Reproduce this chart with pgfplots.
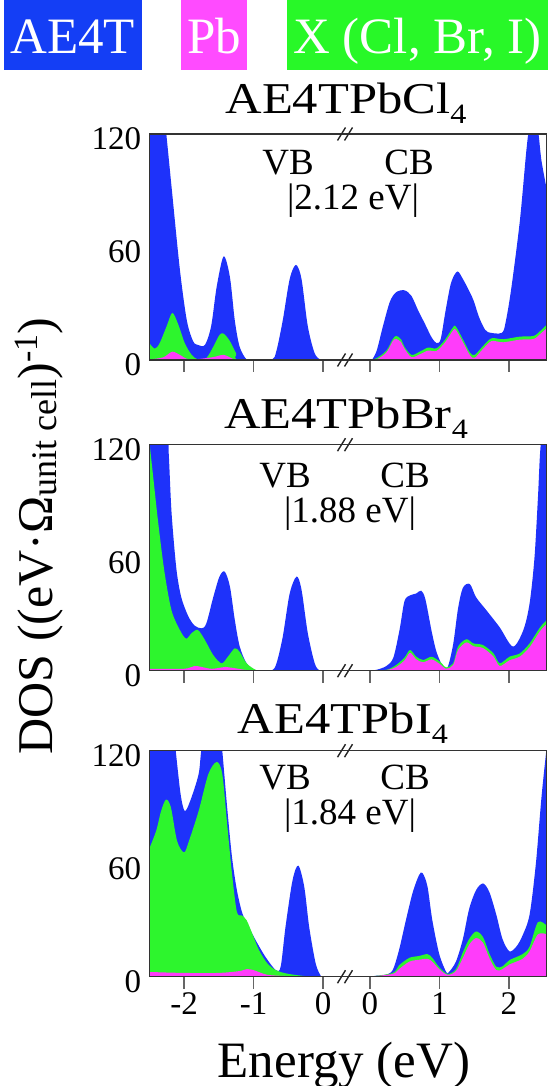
\documentclass[border=0pt]{standalone}
\usepackage{fontspec}
\setmainfont{Liberation Serif}
\usepackage{graphicx}
\usepackage{pgfplots}
\pgfplotsset{compat=1.18}

\definecolor{aeblue}{RGB}{30,50,250}
\definecolor{pbpink}{RGB}{255,60,250}
\definecolor{xgreen}{RGB}{45,245,45}
\definecolor{legblue}{RGB}{20,62,245}
\definecolor{legpink}{RGB}{255,75,255}
\definecolor{leggreen}{RGB}{40,248,40}

% conduction-band energies are drawn to the right of the axis break
\def\cbshift{0.672}
\newcommand\fs[1]{\fontsize{#1}{#1}\selectfont}
\newcommand\titlesub[1]{\raisebox{-10pt}{\fs{28}#1}}

\pgfplotsset{
  dosaxis/.style={
    scale only axis, width=397.4pt, height=226pt,
    xmin=-2.5, xmax=3.218, ymin=0, ymax=120,
    axis on top,
    axis line style={line width=1.5pt, black!80},
    tick align=outside, major tick length=12pt,
    xtick pos=left, ytick pos=left,
    xtick={-2,-1,0,0.672,1.672,2.672},
    xticklabels={,,,,,},
    x tick style={line width=1.5pt, black!60},
    ytick={0,60,120}, yticklabels={0,60,120},
    y tick style={draw=none},
    yticklabel style={font=\fs{33}, inner sep=0pt, xshift=4pt, yshift=-5pt},
    xticklabel style={font=\fs{33}},
  },
  vb/.style={draw=none, smooth, tension=0.5},
  cb/.style={draw=none, smooth, tension=0.5, x filter/.expression={x+\cbshift}},
}

\begin{document}
\begin{tikzpicture}
\path[use as bounding box] (0,0) rectangle (548pt,1086pt);

% ---------- legend ----------
\fill[legblue]  (3.5pt,1016pt) rectangle (142pt,1086pt);
\fill[legpink]  (181pt,1016pt) rectangle (247.4pt,1086pt);
\fill[leggreen] (287.3pt,1016pt) rectangle (548pt,1086pt);
\node[anchor=base, text=white, inner sep=0pt] at (72.8pt,1032pt) {\fs{51}AE4T};
\node[anchor=base, text=white, inner sep=0pt] at (214.2pt,1032pt) {\fs{51}Pb};
\node[anchor=base, text=white, inner sep=0pt] at (417.6pt,1032pt) {\fs{51}X (Cl, Br, I)};

% ---------- AE4TPbCl4 ----------
\begin{axis}[dosaxis, at={(149.3pt,726pt)}, anchor=south west]
\addplot[vb, fill=aeblue] coordinates {(-2.5,140) (-2.30,135) (-2.25,118) (-2.18,92) (-2.06,48) (-1.96,21) (-1.87,10) (-1.80,8) (-1.70,8) (-1.61,18) (-1.53,39) (-1.43,55) (-1.34,44) (-1.27,21) (-1.20,7) (-1.10,0.3) (-1.0,0) (-0.74,0) (-0.67,5) (-0.58,21) (-0.48,43) (-0.39,50.5) (-0.31,43) (-0.22,18) (-0.12,3.5) (-0.03,0) (0,0)} \closedcycle;
\addplot[cb, fill=aeblue] coordinates {(0,0) (0.03,0) (0.10,5) (0.19,18) (0.29,31) (0.38,36) (0.50,37) (0.60,34) (0.70,26) (0.79,19.5) (0.89,12) (0.96,9) (1.02,11) (1.09,26) (1.17,41) (1.26,47) (1.34,43) (1.44,36) (1.50,31) (1.56,24) (1.63,18) (1.70,14.8) (1.90,14.4) (1.96,21) (2.04,39) (2.16,74) (2.25,110) (2.29,122) (2.35,128) (2.42,122) (2.47,106) (2.55,90)} \closedcycle;
\addplot[vb, fill=xgreen] coordinates {(-2.5,9) (-2.42,6) (-2.35,9) (-2.25,18) (-2.17,25) (-2.09,19.5) (-1.99,9) (-1.89,2.7) (-1.80,0.3) (-1.68,1) (-1.58,7) (-1.49,13.3) (-1.43,14) (-1.34,10) (-1.25,3.5) (-1.17,0) (0,0)} \closedcycle;
\addplot[cb, fill=xgreen] coordinates {(0,0) (0.10,1) (0.24,5) (0.33,11) (0.38,12.8) (0.45,11) (0.50,7) (0.60,2.7) (0.72,4.4) (0.84,6.6) (0.96,6.2) (1.08,10.6) (1.20,17.5) (1.24,17.7) (1.34,11) (1.44,4) (1.51,2.7) (1.62,7) (1.75,11.5) (1.92,11) (2.16,12.4) (2.36,12.8) (2.47,16) (2.55,19)} \closedcycle;
\addplot[vb, fill=pbpink] coordinates {(-2.5,0.3) (-2.30,1.4) (-2.17,4.4) (-2.06,2.7) (-1.92,0.3) (-1.60,1.4) (-1.43,2.7) (-1.29,0.5) (-1.2,0) (0,0)} \closedcycle;
\addplot[cb, fill=pbpink] coordinates {(0,0) (0.10,0.3) (0.24,4) (0.33,10) (0.38,11.2) (0.45,9.5) (0.50,6) (0.60,1.5) (0.72,3) (0.84,5) (0.96,4.8) (1.08,9.2) (1.20,15.8) (1.24,16) (1.34,9.5) (1.44,2.6) (1.51,1.2) (1.62,5.5) (1.75,10) (1.92,9.4) (2.16,10.8) (2.36,11.2) (2.47,14.4) (2.55,17)} \closedcycle;
\end{axis}

% ---------- AE4TPbBr4 ----------
\begin{axis}[dosaxis, at={(149.3pt,415.3pt)}, anchor=south west]
\addplot[vb, fill=aeblue] coordinates {(-2.5,140) (-2.25,128) (-2.22,115) (-2.18,84) (-2.11,54) (-2.04,39) (-1.94,29) (-1.85,24) (-1.75,22.5) (-1.68,25) (-1.58,39) (-1.49,50) (-1.415,52.6) (-1.34,44.7) (-1.27,27) (-1.20,13) (-1.10,3.9) (-0.98,0.3) (-0.9,0) (-0.74,0) (-0.67,3.9) (-0.58,18) (-0.48,41) (-0.38,50) (-0.31,43) (-0.22,20) (-0.12,3.9) (-0.05,0) (0,0)} \closedcycle;
\addplot[cb, fill=aeblue] coordinates {(0,0) (0.10,0.5) (0.24,2.5) (0.34,7) (0.43,22) (0.50,37) (0.58,40) (0.67,41) (0.74,42.5) (0.80,38) (0.89,21) (0.96,10) (1.05,2.5) (1.12,1.8) (1.20,14) (1.27,33) (1.34,44) (1.44,46) (1.53,39) (1.68,32) (1.87,23) (2.06,12.8) (2.21,21.6) (2.30,35.8) (2.37,60) (2.42,92) (2.46,120) (2.55,140)} \closedcycle;
\addplot[vb, fill=xgreen] coordinates {(-2.5,122) (-2.45,105) (-2.37,78) (-2.28,52) (-2.18,32) (-2.06,21.6) (-1.97,17) (-1.89,20) (-1.80,21.6) (-1.70,16.3) (-1.58,8.3) (-1.46,3.9) (-1.37,7.4) (-1.27,11.9) (-1.20,10) (-1.10,3.9) (-0.96,0.3) (-0.85,0) (0,0)} \closedcycle;
\addplot[cb, fill=xgreen] coordinates {(0,0) (0.24,0.5) (0.38,3) (0.50,7) (0.58,11) (0.67,7.4) (0.77,5.7) (0.89,7.4) (1.01,4.8) (1.10,1.8) (1.20,4) (1.27,12.8) (1.39,16.7) (1.49,14.5) (1.63,13.6) (1.78,9.2) (1.87,3.9) (2.01,7.4) (2.16,9.2) (2.30,14.5) (2.45,23) (2.55,27)} \closedcycle;
\addplot[vb, fill=pbpink] coordinates {(-2.5,1) (-2.0,1) (-1.85,2.5) (-1.75,2) (-1.6,1) (-1.4,2) (-1.3,1.5) (-1.1,0.3) (-1.0,0) (0,0)} \closedcycle;
\addplot[cb, fill=pbpink] coordinates {(0,0) (0.24,0.3) (0.38,2) (0.50,5.5) (0.58,9.5) (0.67,6) (0.77,4.5) (0.89,6) (1.01,3.5) (1.10,1) (1.20,3) (1.27,11) (1.39,15) (1.49,13) (1.63,12) (1.78,7.5) (1.87,2.5) (2.01,5.5) (2.16,7.5) (2.30,12.5) (2.45,21) (2.55,25)} \closedcycle;
\end{axis}

% ---------- AE4TPbI4 ----------
\begin{axis}[dosaxis, at={(149.3pt,109.3pt)}, anchor=south west,
  xticklabels={-2,-1,0,0,1,2}]
\addplot[vb, fill=aeblue] coordinates {(-2.5,140) (-2.15,130) (-2.12,120) (-2.05,97) (-1.99,88) (-1.91,93.5) (-1.79,107.6) (-1.72,125) (-1.47,125) (-1.45,120) (-1.38,90) (-1.31,63.5) (-1.24,46) (-1.16,33.5) (-1.07,26.5) (-0.97,19.4) (-0.83,10.6) (-0.68,3.5) (-0.61,5.3) (-0.54,26.5) (-0.44,51) (-0.356,59) (-0.27,47.6) (-0.20,26.5) (-0.106,7) (-0.03,0.3) (0,0)} \closedcycle;
\addplot[cb, fill=aeblue] coordinates {(0,0) (0.09,0.5) (0.23,1) (0.33,3.5) (0.42,14) (0.52,30) (0.62,45) (0.71,54) (0.76,55) (0.83,48) (0.90,30) (1.0,12) (1.10,2.5) (1.14,2.5) (1.24,8) (1.34,20) (1.43,36) (1.53,46) (1.63,49.5) (1.72,45) (1.82,33) (1.91,20) (2.01,13.5) (2.11,16) (2.20,22) (2.30,33) (2.39,60) (2.47,95) (2.54,120) (2.55,122)} \closedcycle;
\addplot[vb, fill=xgreen] coordinates {(-2.5,68) (-2.40,77.6) (-2.33,88) (-2.26,94) (-2.19,90) (-2.10,72) (-2.0,66) (-1.93,72) (-1.79,88) (-1.65,107.6) (-1.53,114) (-1.45,107.6) (-1.38,81) (-1.31,54.7) (-1.24,34.4) (-1.17,32.6) (-1.10,30) (-1.02,23) (-0.92,14) (-0.80,7) (-0.68,3.5) (-0.54,1.8) (-0.35,0.7) (-0.15,0) (0,0)} \closedcycle;
\addplot[cb, fill=xgreen] coordinates {(0,0) (0.33,2) (0.42,6) (0.57,10) (0.71,11) (0.83,12) (0.90,10) (1.0,5) (1.12,1.5) (1.24,4) (1.34,13) (1.43,20) (1.53,24) (1.63,21) (1.72,12.4) (1.82,5.3) (1.91,5.5) (2.01,8.8) (2.20,12) (2.30,16) (2.42,29) (2.55,27)} \closedcycle;
\addplot[vb, fill=pbpink] coordinates {(-2.5,2.5) (-2.0,2) (-1.5,2) (-1.2,3) (-1.1,4) (-1.0,3.5) (-0.8,1) (-0.5,0.3) (-0.3,0) (0,0)} \closedcycle;
\addplot[cb, fill=pbpink] coordinates {(0,0) (0.33,1.5) (0.42,4) (0.57,8) (0.71,9) (0.83,9.5) (0.90,8) (1.0,4) (1.12,1) (1.24,3) (1.34,10) (1.43,17) (1.53,20.5) (1.63,18) (1.72,10) (1.82,3.5) (1.91,4) (2.01,6.5) (2.20,9.5) (2.30,13.5) (2.42,22.5) (2.55,22.5)} \closedcycle;
\end{axis}

% ---------- axis-break marks ----------
\foreach \yb in {726,952,415.3,641.3,109.3,335.3}{
  \foreach \xb in {341.5,348.5}{
    \draw[line width=1.4pt, black!85] (\xb pt-4pt,\yb pt-6.5pt) -- (\xb pt+4pt,\yb pt+6.5pt);
  }
}

% ---------- panel titles and band labels ----------
\node[anchor=base, inner sep=0pt] at (346pt,972.7pt) {\scalebox{1.15}[1]{\fs{44}AE4TPbCl\titlesub{4}}};
\node[anchor=base, inner sep=0pt] at (346pt,657.7pt) {\scalebox{1.15}[1]{\fs{44}AE4TPbBr\titlesub{4}}};
\node[anchor=base, inner sep=0pt] at (343pt,352.7pt) {\scalebox{1.15}[1]{\fs{44}AE4TPbI\titlesub{4}}};

\node[anchor=base, inner sep=0pt] at (288pt,911pt) {\fs{37}VB};
\node[anchor=base, inner sep=0pt] at (409pt,911pt) {\fs{37}CB};
\node[anchor=base, inner sep=0pt] at (353pt,876pt) {\fs{37}|2.12 eV|};

\node[anchor=base, inner sep=0pt] at (285pt,598pt) {\fs{37}VB};
\node[anchor=base, inner sep=0pt] at (405pt,598pt) {\fs{37}CB};
\node[anchor=base, inner sep=0pt] at (350pt,563pt) {\fs{37}|1.88 eV|};

\node[anchor=base, inner sep=0pt] at (285pt,296pt) {\fs{37}VB};
\node[anchor=base, inner sep=0pt] at (405pt,296pt) {\fs{37}CB};
\node[anchor=base, inner sep=0pt] at (350pt,261pt) {\fs{37}|1.84 eV|};

% ---------- axis titles ----------
\node[anchor=base, inner sep=0pt] at (344pt,9pt) {\fs{51}Energy (eV)};
\node[anchor=base, rotate=90, inner sep=0pt] at (52pt,550pt) {\fs{50}DOS ((eV·Ω\raisebox{-4pt}{\fs{36}unit cell})\raisebox{15pt}{\fs{34}-1})};
\end{tikzpicture}
\end{document}
